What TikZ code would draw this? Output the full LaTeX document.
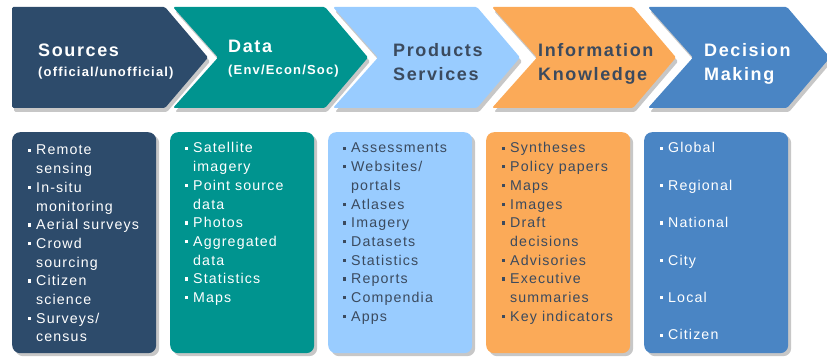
\documentclass[tikz,border=0pt]{standalone}
\usepackage{fontspec}
\setmainfont{Liberation Sans}
\newfontfamily\headfont[LetterSpace=9]{Liberation Sans}
\newfontfamily\bodyfont[LetterSpace=8]{Liberation Sans}
\usepackage{tikz}
\usetikzlibrary{shadows}

\definecolor{srcblue}{HTML}{2D4B6B}
\definecolor{datateal}{HTML}{00948F}
\definecolor{prodblue}{HTML}{99CCFF}
\definecolor{infoorange}{HTML}{FBAA58}
\definecolor{decblue}{HTML}{4A85C4}
\definecolor{slatetext}{HTML}{3B4A5E}

\newcommand{\bul}{\makebox[8pt][l]{\raisebox{3.2pt}{\rule{3.2pt}{3.2pt}}}}
\newcommand{\ind}{\hspace*{8pt}}

\begin{document}
\begin{tikzpicture}[x=1pt,y=-1pt,
	chev/.style={rounded corners=1.5pt,
		drop shadow={shadow xshift=2pt,shadow yshift=-4pt,fill=black!22,opacity=1}},
	card/.style={rounded corners=8pt, anchor=north west, inner sep=0,
		minimum width=144pt, minimum height=221pt,
		drop shadow={shadow xshift=3pt,shadow yshift=-3pt,fill=black!22,opacity=1}},
	head/.style={anchor=base west, inner sep=0, font=\headfont\bfseries\fontsize{18}{22}\selectfont},
	sub/.style={anchor=base west, inner sep=0, font=\headfont\bfseries\fontsize{13}{16}\selectfont},
	list/.style={anchor=base west, inner sep=0, font=\bodyfont\fontsize{14.2}{18.7}\selectfont}]
	
	\useasboundingbox (0,0) rectangle (827,358);
	
	\path[chev, fill=srcblue] (12,7) -- (165,7) -- (208,57.5) -- (165,108) -- (12,108) -- cycle;
	\foreach \l/\r/\c in {173/325/datateal, 333/477/prodblue, 492/633/infoorange, 648/787/decblue}
		\path[chev, fill=\c] (\l,7) -- (\r,7) -- (\r+43,57.5) -- (\r,108) -- (\l,108) -- (\l+45,57.5) -- cycle;
	
	\node[head, white] (srctitle) at (38,57) {Sources};
	\node[sub, white] (srcsub) at ([yshift=-20pt]srctitle.base west) {(official/unofficial)};
	\node[head, white] (datatitle) at (228,53) {Data};
	\node[sub, white] (datasub) at ([yshift=-22pt]datatitle.base west) {(Env/Econ/Soc)};
	\node[head, slatetext] (prodtitle) at (393,56.5) {Products};
	\node[head, slatetext] (prodsub) at ([yshift=-24pt]prodtitle.base west) {Services};
	\node[head, slatetext] (infotitle) at (538,56.5) {Information};
	\node[head, slatetext] (infosub) at ([yshift=-24pt]infotitle.base west) {Knowledge};
	\node[head, white] (dectitle) at (704,56.5) {Decision};
	\node[head, white] (decsub) at ([yshift=-24pt]dectitle.base west) {Making};
	
	\node[card, fill=srcblue] (srcbox) at (12,132) {};
	\node[card, fill=datateal] (databox) at (170,132) {};
	\node[card, fill=prodblue] (prodbox) at (328,132) {};
	\node[card, fill=infoorange] (infobox) at (486,132) {};
	\node[card, fill=decblue] (decbox) at (644,132) {};
	
	\node[list, white] (srclist) at ([shift={(16,23)}]srcbox.north west) {\parbox[t]{125pt}{%
		\bul Remote\\ \ind sensing\\ \bul In-situ\\ \ind monitoring\\ \bul Aerial surveys\\
		\bul Crowd\\ \ind sourcing\\ \bul Citizen\\ \ind science\\ \bul Surveys/\\ \ind census}};
	\node[list, white] (datalist) at ([shift={(15,21)}]databox.north west) {\parbox[t]{125pt}{%
		\bul Satellite\\ \ind imagery\\ \bul Point source\\ \ind data\\ \bul Photos\\
		\bul Aggregated\\ \ind data\\ \bul Statistics\\ \bul Maps}};
	\node[list, slatetext] (prodlist) at ([shift={(15,21)}]prodbox.north west) {\parbox[t]{125pt}{%
		\bul Assessments\\ \bul Websites/\\ \ind portals\\ \bul Atlases\\ \bul Imagery\\
		\bul Datasets\\ \bul Statistics\\ \bul Reports\\ \bul Compendia\\ \bul Apps}};
	\node[list, slatetext] (infolist) at ([shift={(16,21)}]infobox.north west) {\parbox[t]{125pt}{%
		\bul Syntheses\\ \bul Policy papers\\ \bul Maps\\ \bul Images\\ \bul Draft\\ \ind decisions\\
		\bul Advisories\\ \bul Executive\\ \ind summaries\\ \bul Key indicators}};
	\node[list, white] (declist) at ([shift={(16,21)}]decbox.north west) {\parbox[t]{125pt}{%
		\bul Global\\[18.7pt] \bul Regional\\[18.7pt] \bul National\\[18.7pt]
		\bul City\\[18.7pt] \bul Local\\[18.7pt] \bul Citizen}};
	
\end{tikzpicture}
\end{document}
